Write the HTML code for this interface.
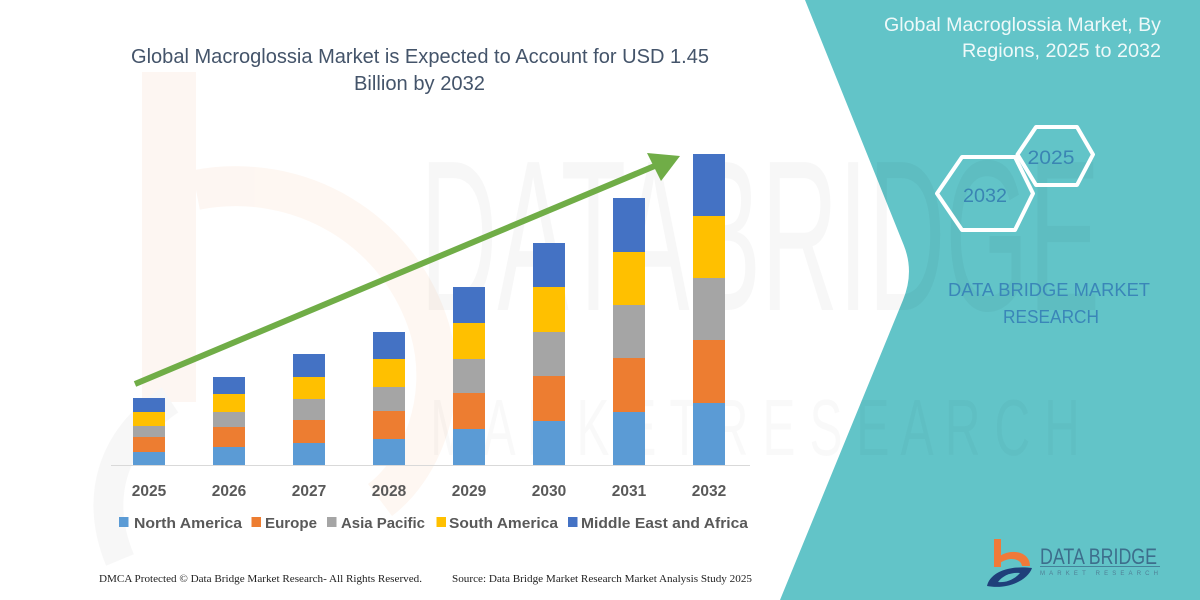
<!DOCTYPE html>
<html>
<head>
<meta charset="utf-8">
<style>
html,body{margin:0;padding:0;background:#fff;}
svg{display:block;}
</style>
</head>
<body>
<svg width="1200" height="600" viewBox="0 0 1200 600" xmlns="http://www.w3.org/2000/svg">
  <rect x="0" y="0" width="1200" height="600" fill="#ffffff"/>

  <!-- faint watermark logo on left -->
  <g opacity="0.55">
    <rect x="142" y="72" width="54" height="330" fill="#fdf0e8"/>
    <path d="M196,190 C300,170 400,230 430,330 C450,400 420,470 380,500" fill="none" stroke="#fdf0e8" stroke-width="40"/>
    <path d="M120,560 C95,500 110,440 170,400" fill="none" stroke="#f2f2f2" stroke-width="30"/>
  </g>

  <!-- Teal right panel -->
  <path d="M805,0 L1200,0 L1200,600 L780,600 L903,300 Q914.6,272 903.7,245 Z" fill="#62c4c8"/>

  <!-- faint watermark text -->
  <text x="420" y="310" font-family="Liberation Sans, sans-serif" font-size="215" textLength="680" lengthAdjust="spacingAndGlyphs" fill="#000" fill-opacity="0.03">DATABRIDGE</text>
  <text x="430" y="455" font-family="Liberation Sans, sans-serif" font-size="80" textLength="650" lengthAdjust="spacingAndGlyphs" fill="#000" fill-opacity="0.025">M A R K E T  R E S E A R C H</text>

  <!-- Left title -->
  <text x="131" y="63" font-family="Liberation Sans, sans-serif" font-size="20" fill="#44546a" textLength="578" lengthAdjust="spacingAndGlyphs">Global Macroglossia Market is Expected to Account for USD 1.45</text>
  <text x="354" y="90" font-family="Liberation Sans, sans-serif" font-size="20" fill="#44546a" textLength="131" lengthAdjust="spacingAndGlyphs">Billion by 2032</text>

  <!-- axis line -->
  <line x1="111" y1="465.5" x2="750" y2="465.5" stroke="#d9d9d9" stroke-width="1"/>

  <!-- Bars: x = 133 + 80i, width 32 -->
  <g>
    <!-- 2025 -->
    <rect x="133" y="452" width="32" height="13" fill="#5b9bd5"/>
    <rect x="133" y="437" width="32" height="15" fill="#ed7d31"/>
    <rect x="133" y="426" width="32" height="11" fill="#a5a5a5"/>
    <rect x="133" y="412" width="32" height="14" fill="#ffc000"/>
    <rect x="133" y="398" width="32" height="14" fill="#4472c4"/>
    <!-- 2026 -->
    <rect x="213" y="447" width="32" height="18" fill="#5b9bd5"/>
    <rect x="213" y="427" width="32" height="20" fill="#ed7d31"/>
    <rect x="213" y="412" width="32" height="15" fill="#a5a5a5"/>
    <rect x="213" y="394" width="32" height="18" fill="#ffc000"/>
    <rect x="213" y="377" width="32" height="17" fill="#4472c4"/>
    <!-- 2027 -->
    <rect x="293" y="443" width="32" height="22" fill="#5b9bd5"/>
    <rect x="293" y="420" width="32" height="23" fill="#ed7d31"/>
    <rect x="293" y="399" width="32" height="21" fill="#a5a5a5"/>
    <rect x="293" y="377" width="32" height="22" fill="#ffc000"/>
    <rect x="293" y="354" width="32" height="23" fill="#4472c4"/>
    <!-- 2028 -->
    <rect x="373" y="439" width="32" height="26" fill="#5b9bd5"/>
    <rect x="373" y="411" width="32" height="28" fill="#ed7d31"/>
    <rect x="373" y="387" width="32" height="24" fill="#a5a5a5"/>
    <rect x="373" y="359" width="32" height="28" fill="#ffc000"/>
    <rect x="373" y="332" width="32" height="27" fill="#4472c4"/>
    <!-- 2029 -->
    <rect x="453" y="429" width="32" height="36" fill="#5b9bd5"/>
    <rect x="453" y="393" width="32" height="36" fill="#ed7d31"/>
    <rect x="453" y="359" width="32" height="34" fill="#a5a5a5"/>
    <rect x="453" y="323" width="32" height="36" fill="#ffc000"/>
    <rect x="453" y="287" width="32" height="36" fill="#4472c4"/>
    <!-- 2030 -->
    <rect x="533" y="421" width="32" height="44" fill="#5b9bd5"/>
    <rect x="533" y="376" width="32" height="45" fill="#ed7d31"/>
    <rect x="533" y="332" width="32" height="44" fill="#a5a5a5"/>
    <rect x="533" y="287" width="32" height="45" fill="#ffc000"/>
    <rect x="533" y="243" width="32" height="44" fill="#4472c4"/>
    <!-- 2031 -->
    <rect x="613" y="412" width="32" height="53" fill="#5b9bd5"/>
    <rect x="613" y="358" width="32" height="54" fill="#ed7d31"/>
    <rect x="613" y="305" width="32" height="53" fill="#a5a5a5"/>
    <rect x="613" y="252" width="32" height="53" fill="#ffc000"/>
    <rect x="613" y="198" width="32" height="54" fill="#4472c4"/>
    <!-- 2032 -->
    <rect x="693" y="403" width="32" height="62" fill="#5b9bd5"/>
    <rect x="693" y="340" width="32" height="63" fill="#ed7d31"/>
    <rect x="693" y="278" width="32" height="62" fill="#a5a5a5"/>
    <rect x="693" y="216" width="32" height="62" fill="#ffc000"/>
    <rect x="693" y="154" width="32" height="62" fill="#4472c4"/>
  </g>

  <!-- Green arrow -->
  <line x1="135" y1="384" x2="657" y2="165" stroke="#70ad47" stroke-width="6"/>
  <polygon points="647,153 680,156 661,181" fill="#70ad47"/>

  <!-- Year labels -->
  <g font-family="Liberation Sans, sans-serif" font-size="15.5" font-weight="bold" fill="#595959" text-anchor="middle">
    <text x="149" y="496">2025</text>
    <text x="229" y="496">2026</text>
    <text x="309" y="496">2027</text>
    <text x="389" y="496">2028</text>
    <text x="469" y="496">2029</text>
    <text x="549" y="496">2030</text>
    <text x="629" y="496">2031</text>
    <text x="709" y="496">2032</text>
  </g>

  <!-- Legend -->
  <g font-family="Liberation Sans, sans-serif" font-size="15" font-weight="bold" fill="#595959">
    <rect x="119" y="517" width="9.5" height="10" fill="#5b9bd5"/>
    <text x="134" y="528" textLength="108" lengthAdjust="spacingAndGlyphs">North America</text>
    <rect x="251.5" y="517" width="9.5" height="10" fill="#ed7d31"/>
    <text x="265" y="528" textLength="52" lengthAdjust="spacingAndGlyphs">Europe</text>
    <rect x="327" y="517" width="9.5" height="10" fill="#a5a5a5"/>
    <text x="341" y="528" textLength="84" lengthAdjust="spacingAndGlyphs">Asia Pacific</text>
    <rect x="436.5" y="517" width="9.5" height="10" fill="#ffc000"/>
    <text x="449" y="528" textLength="109" lengthAdjust="spacingAndGlyphs">South America</text>
    <rect x="568" y="517" width="9.5" height="10" fill="#4472c4"/>
    <text x="581" y="528" textLength="167" lengthAdjust="spacingAndGlyphs">Middle East and Africa</text>
  </g>

  <!-- Footer -->
  <g font-family="Liberation Serif, serif" font-size="10.5" fill="#222">
    <text x="99" y="582" textLength="323" lengthAdjust="spacingAndGlyphs">DMCA Protected © Data Bridge Market Research-  All Rights Reserved.</text>
    <text x="452" y="582" textLength="300" lengthAdjust="spacingAndGlyphs">Source:  Data Bridge Market Research  Market Analysis Study 2025</text>
  </g>

  <!-- Right title -->
  <g font-family="Liberation Sans, sans-serif" font-size="19" fill="#eef9f9" text-anchor="end">
    <text x="1161" y="31" textLength="277" lengthAdjust="spacingAndGlyphs">Global Macroglossia Market, By</text>
    <text x="1161" y="57" textLength="199" lengthAdjust="spacingAndGlyphs">Regions, 2025 to 2032</text>
  </g>

  <!-- Hexagons -->
  <g fill="none" stroke="#ffffff" stroke-width="4" stroke-linejoin="round">
    <polygon points="937,193.5 962,157 1015,157 1033,193.5 1015,230 962,230"/>
    <polygon points="1017.5,154.5 1036,127 1077,127 1093,154.5 1077,185 1036,185"/>
  </g>
  <g font-family="Liberation Sans, sans-serif" font-size="19" fill="#3a85b3" text-anchor="middle">
    <text x="985" y="202" textLength="44" lengthAdjust="spacingAndGlyphs">2032</text>
    <text x="1051" y="164" textLength="47" lengthAdjust="spacingAndGlyphs">2025</text>
  </g>

  <!-- DATA BRIDGE MARKET RESEARCH -->
  <g font-family="Liberation Sans, sans-serif" font-size="18" fill="#3a86b8" text-anchor="middle">
    <text x="1049" y="296" textLength="202" lengthAdjust="spacingAndGlyphs">DATA BRIDGE MARKET</text>
    <text x="1051" y="323" textLength="96" lengthAdjust="spacingAndGlyphs">RESEARCH</text>
  </g>

  <!-- Bottom-right logo -->
  <g>
    <rect x="994" y="539" width="7" height="28" fill="#f07a3a"/>
    <path d="M1000,556 C1012,548 1030,552 1030,566 L1022,566 C1021,559 1010,556 1000,563 Z" fill="#f07a3a"/>
    <path d="M987,586 C990,572 1010,565 1032,568 C1028,580 1008,590 987,586 Z" fill="#1f3f7a"/>
    <path d="M998,582 C1003,575 1012,572 1020,573 C1015,579 1006,583 998,582 Z" fill="#62c4c8"/>
    <text x="1040" y="564" font-family="Liberation Sans, sans-serif" font-size="22" fill="#3d6e8c" textLength="117" lengthAdjust="spacingAndGlyphs">DATA BRIDGE</text>
    <line x1="1040" y1="566.5" x2="1160" y2="566.5" stroke="#3d6e8c" stroke-width="0.8"/>
    <text x="1040" y="575" font-family="Liberation Sans, sans-serif" font-size="6" fill="#4f7f96" textLength="118" lengthAdjust="spacing">MARKET RESEARCH</text>
  </g>
</svg>
</body>
</html>
